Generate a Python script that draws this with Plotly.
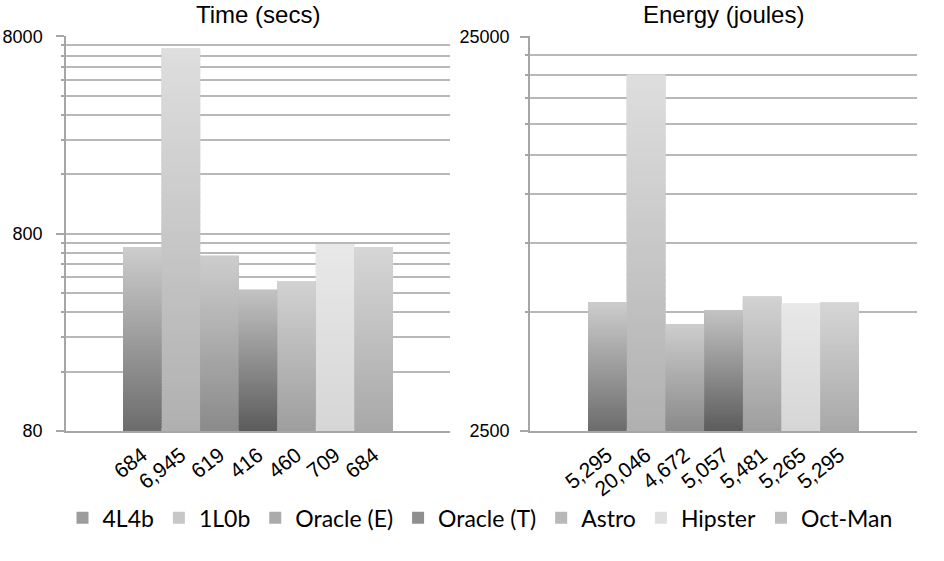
import numpy as np
import plotly.graph_objects as go

# ---------------- data ----------------
series = ["4L4b", "1L0b", "Oracle (E)", "Oracle (T)", "Astro", "Hipster", "Oct-Man"]
time_secs = [684, 6945, 619, 416, 460, 709, 684]
energy_joules = [5295, 20046, 4672, 5057, 5481, 5265, 5295]
time_labels = ["684", "6,945", "619", "416", "460", "709", "684"]
energy_labels = ["5,295", "20,046", "4,672", "5,057", "5,481", "5,265", "5,295"]
time_ticks = [80, 800, 8000]
energy_ticks = [2500, 25000]

# ---------------- style ----------------
bottom_gray = [108, 176, 138, 92, 158, 214, 168]
top_gray = [205, 222, 205, 195, 210, 232, 214]
mid_gray = [int((b + t) / 2) for b, t in zip(bottom_gray, top_gray)]
GRID = "#b8b8b8"
AXIS = "#a6a6a6"
NSEG = 60
FONT = "Liberation Sans, Arial, sans-serif"

def gray(v):
    v = int(round(v))
    return f"rgb({v},{v},{v})"

fig = go.Figure()

def add_panel(values, ticks, xa, ya, show_legend):
    lo = ticks[0]
    xs = list(range(len(values)))
    # real bars (carry data + legend)
    for i, (name, v) in enumerate(zip(series, values)):
        fig.add_trace(go.Bar(
            x=[xs[i]], y=[v], name=name, width=1,
            marker=dict(color=gray(mid_gray[i]), line=dict(width=0)),
            showlegend=show_legend, legendgroup=name,
            xaxis=xa, yaxis=ya,
        ))
    # gradient overlay segments (slightly overlapping to hide seams)
    vals = np.array(values, dtype=float)
    for k in range(NSEG):
        f0 = k / NSEG
        f1 = min((k + 1.6) / NSEG, 1.0)
        b0 = lo * (vals / lo) ** f0
        b1 = lo * (vals / lo) ** f1
        tmid = (k + 0.5) / NSEG
        cols = [gray(bottom_gray[i] + (top_gray[i] - bottom_gray[i]) * tmid) for i in range(len(vals))]
        fig.add_trace(go.Bar(
            x=xs, base=b0, y=b1 - b0, width=1,
            marker=dict(color=cols, line=dict(width=0)),
            showlegend=False, hoverinfo="skip",
            xaxis=xa, yaxis=ya,
        ))

add_panel(time_secs, time_ticks, "x", "y", True)
add_panel(energy_joules, energy_ticks, "x2", "y2", False)

def minor_vals(ticks):
    out = []
    for t in ticks[:-1]:
        out += [t * m for m in range(2, 10)]
    return out

def yaxis_cfg(ticks, xa, standoff):
    return dict(
        type="log",
        range=[np.log10(ticks[0]), np.log10(ticks[-1]) + 0.002],
        tickvals=ticks, ticktext=[str(t) for t in ticks],
        showgrid=True, gridcolor=GRID, gridwidth=1.5,
        showline=True, linecolor=AXIS, linewidth=1.5,
        ticks="outside", ticklen=8, tickcolor=AXIS, tickwidth=1.5,
        ticklabelstandoff=standoff,
        minor=dict(tickvals=minor_vals(ticks), showgrid=True, gridcolor=GRID,
                   gridwidth=1.5, ticks="outside", ticklen=3, tickcolor=AXIS),
        tickfont=dict(family=FONT, size=18, color="black"),
        zeroline=False, anchor=xa, fixedrange=True, automargin=False,
    )

def xaxis_cfg(labels, dom, rng, ya):
    return dict(
        domain=dom, range=rng, anchor=ya,
        tickvals=list(range(len(labels))), ticktext=labels, tickangle=-38,
        showgrid=False, showline=True, linecolor=AXIS, linewidth=1.5,
        ticks="", zeroline=False, ticklabelstandoff=2, automargin=False,
        tickfont=dict(family=FONT, size=21, color="black"),
    )

fig.update_layout(
    width=944, height=561,
    margin=dict(l=66, r=27, t=36, b=130, autoexpand=False),
    paper_bgcolor="white", plot_bgcolor="white",
    barmode="overlay",
    xaxis=xaxis_cfg(time_labels, [0, 0.4512], [-1.98, 7.98], "y"),
    xaxis2=xaxis_cfg(energy_labels, [0.5452, 1.0], [-2.0, 8.0], "y2"),
    yaxis=yaxis_cfg(time_ticks, "x", 10),
    yaxis2=yaxis_cfg(energy_ticks, "x2", 7),
    legend=dict(
        orientation="h", x=0.4865, xanchor="center", y=-0.22, yanchor="middle",
        font=dict(family="Lato, Roboto, sans-serif", size=23, color="black"),
        itemwidth=30, traceorder="normal", bgcolor="rgba(0,0,0,0)",
    ),
    annotations=[
        dict(text="Time (secs)", xref="x domain", x=0.5, yref="paper", y=1.054,
             xanchor="center", yanchor="middle", showarrow=False,
             font=dict(family=FONT, size=24, color="black")),
        dict(text="Energy (joules)", xref="x2 domain", x=0.5, yref="paper", y=1.054,
             xanchor="center", yanchor="middle", showarrow=False,
             font=dict(family=FONT, size=24, color="black")),
    ],
    showlegend=True,
)

fig.write_html("out.html")
